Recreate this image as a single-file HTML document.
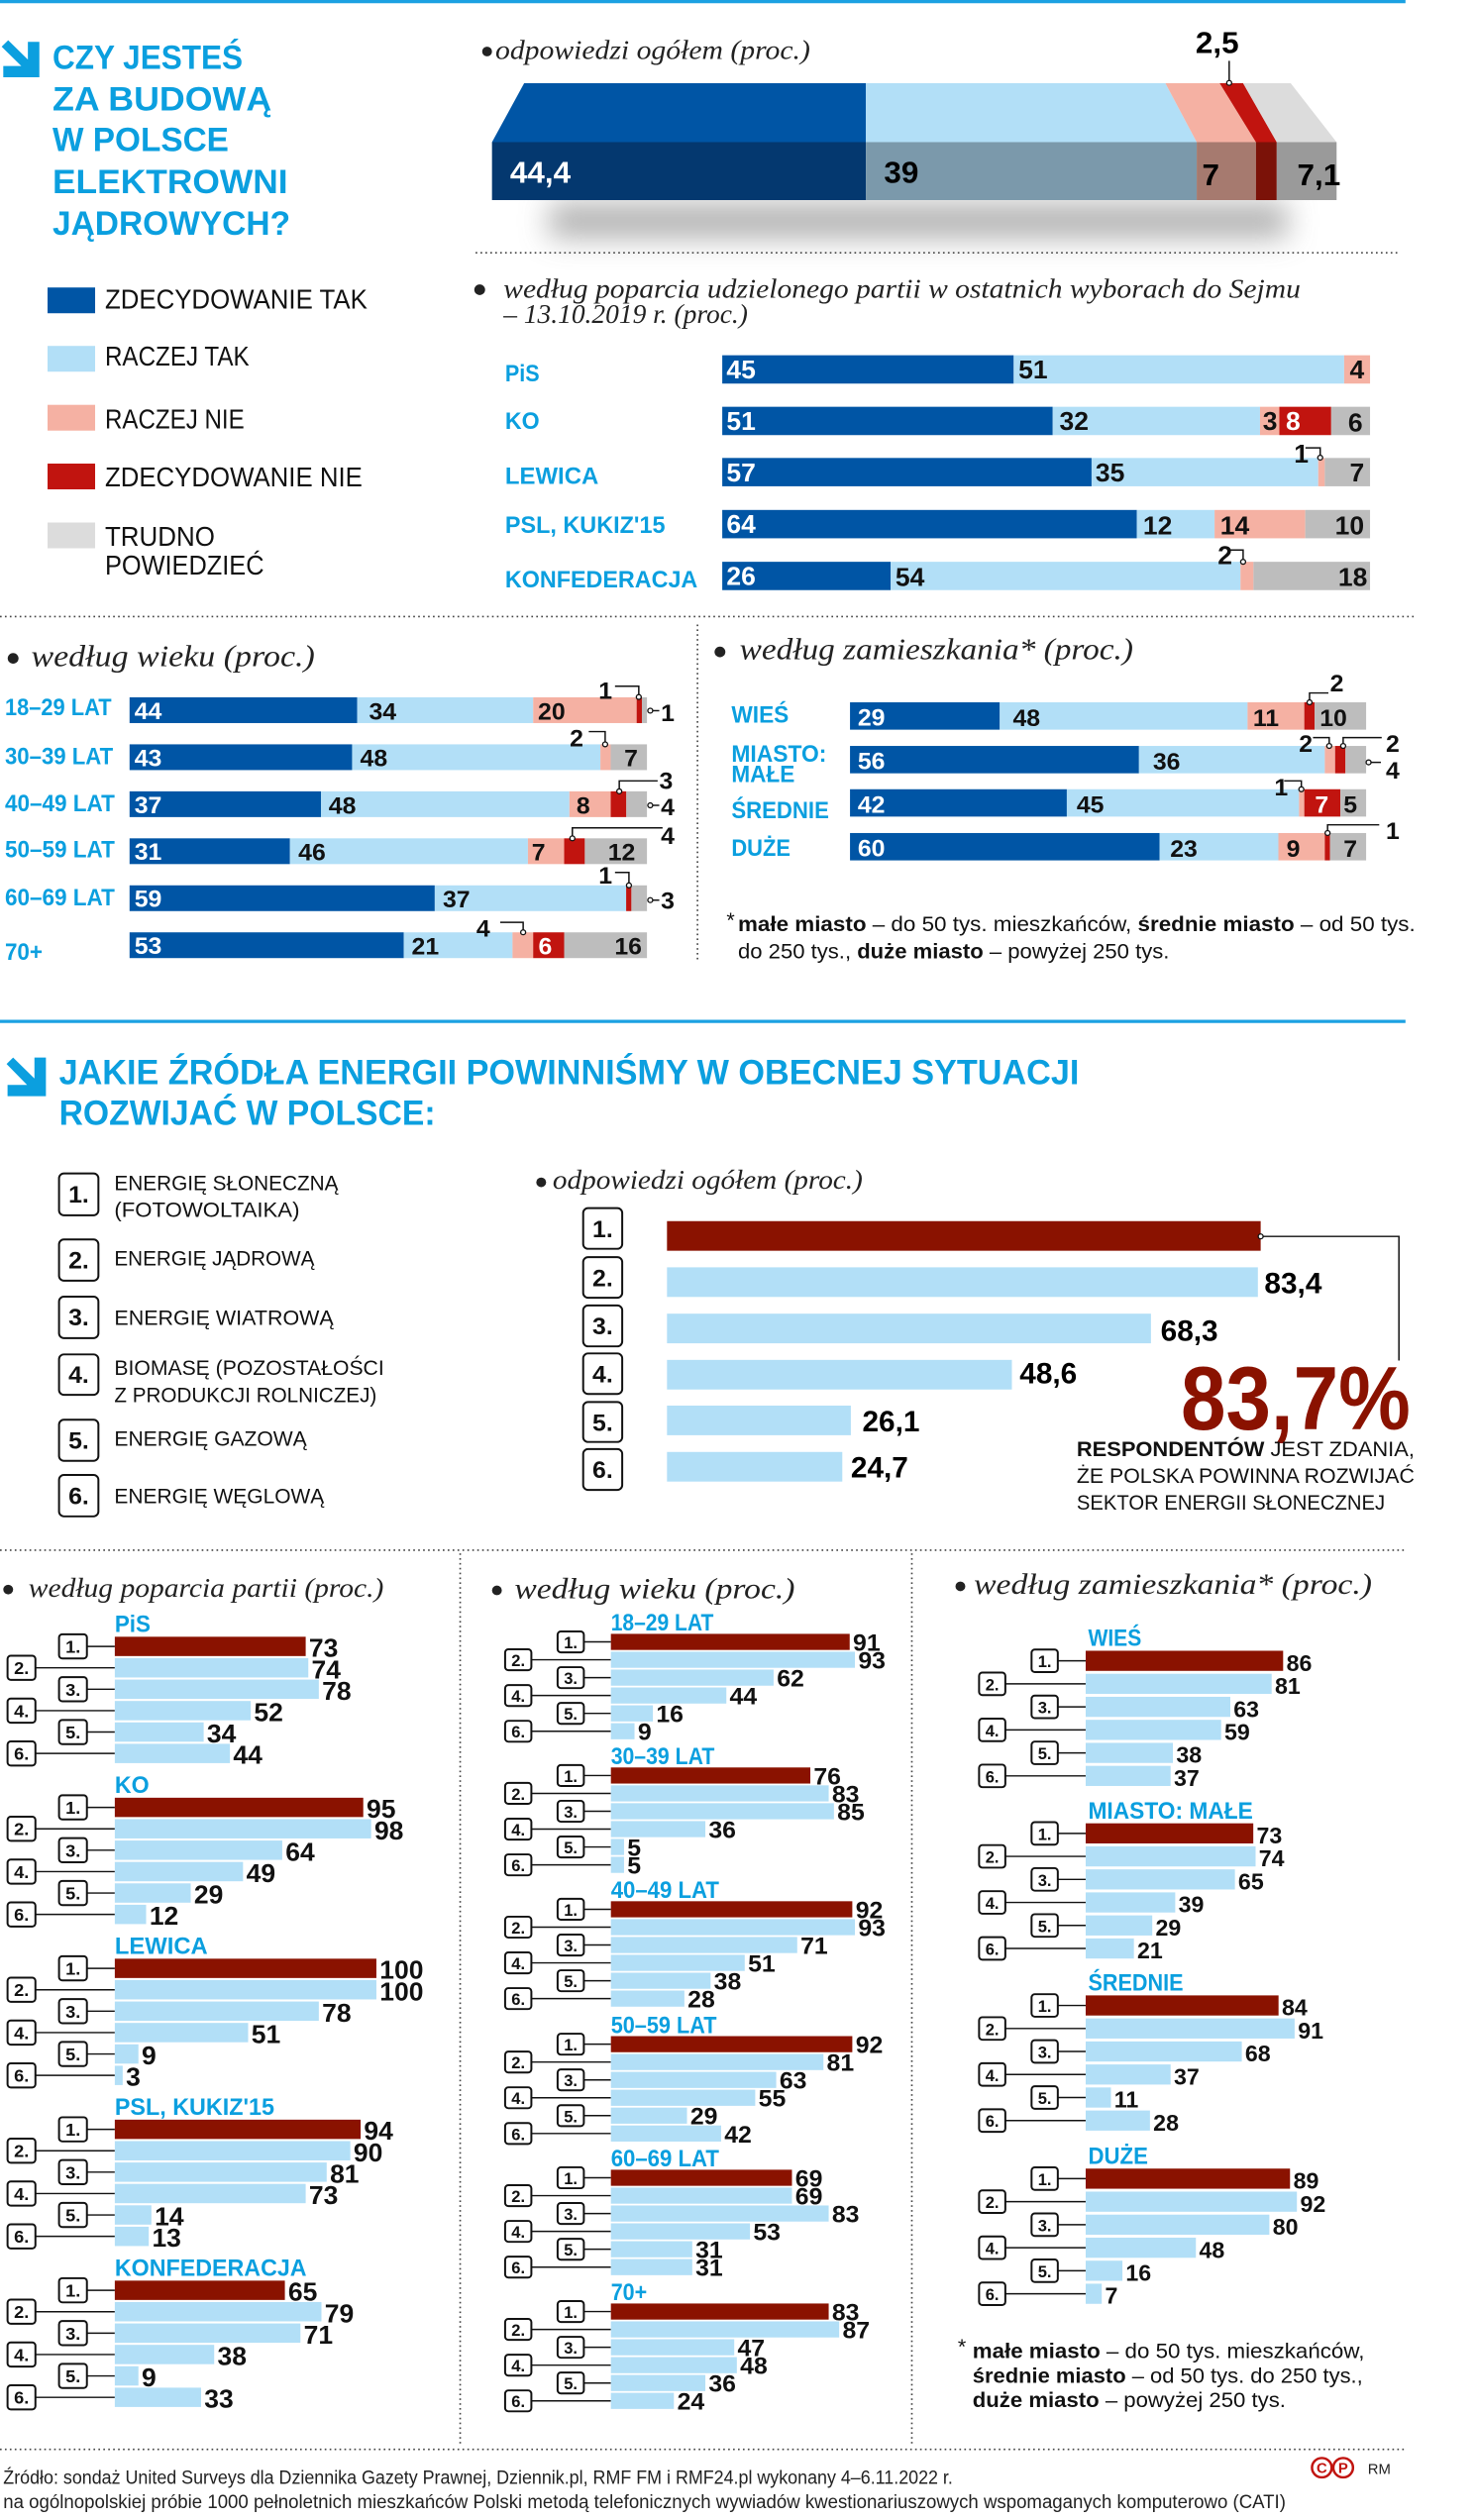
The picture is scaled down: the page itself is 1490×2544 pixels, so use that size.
<!DOCTYPE html>
<html><head><meta charset="utf-8"><style>
html,body{margin:0;padding:0;background:#fff}
svg{display:block}
.n{font-family:"Liberation Sans Narrow","Liberation Sans",sans-serif}
.t{font-family:"Liberation Sans Narrow","Liberation Sans",sans-serif;font-weight:bold;fill:#0b9fdf}
.it{font-family:"Liberation Serif",serif;font-style:italic;fill:#222}
.v{font-family:"Liberation Sans Narrow","Liberation Sans",sans-serif;font-weight:bold;font-size:16px;fill:#111}
.v2{font-family:"Liberation Sans Narrow","Liberation Sans",sans-serif;font-weight:bold;font-size:15px;fill:#111}
.v3{font-family:"Liberation Sans Narrow","Liberation Sans",sans-serif;font-weight:bold;font-size:14px;fill:#111}
.w{fill:#fff}
.gl{font-family:"Liberation Sans Narrow","Liberation Sans",sans-serif;font-weight:bold;font-size:15px;fill:#0b9fdf}
.bx{fill:#fff;stroke:#111;stroke-width:1.2}
.bn{font-family:"Liberation Sans Narrow","Liberation Sans",sans-serif;font-weight:bold;font-size:11px;text-anchor:middle;fill:#111}
.bn2{font-family:"Liberation Sans Narrow","Liberation Sans",sans-serif;font-weight:bold;font-size:10px;text-anchor:middle;fill:#111}
.ln{stroke:#111;stroke-width:.9;fill:none}
.dot{stroke:#444;stroke-width:1;stroke-dasharray:1 2;fill:none}
.lg{font-family:"Liberation Sans Narrow","Liberation Sans",sans-serif;font-size:17px;fill:#111}
.ls{font-family:"Liberation Sans Narrow","Liberation Sans",sans-serif;font-size:13px;fill:#111}
.cc{fill:#fff;stroke:#111;stroke-width:.8}
.DB{fill:#0055a5}.LB{fill:#b2dff7}.SA{fill:#f5b1a3}.RD{fill:#c1140f}.GR{fill:#bdbdbd}.DR{fill:#8a1200}
</style></head><body>
<svg width="1490" height="2544" viewBox="0 0 900 1565.5" preserveAspectRatio="none" xmlns="http://www.w3.org/2000/svg">
<defs><filter id="bl" x="-20%" y="-150%" width="140%" height="400%"><feGaussianBlur stdDeviation="9"/></filter></defs>
<line x1="0" y1="1" x2="857" y2="1" stroke="#1ba1e2" stroke-width="2"/>
<!-- title 1 -->
<path d="M17,26 L24,26 L24,48 L2,48 L2,41 L13,41 L1,29 L5,25 L17,37 Z" fill="#0b9fdf"/>
<text class="t" font-size="21" x="32" y="42.9" textLength="116" lengthAdjust="spacingAndGlyphs">CZY JESTEŚ</text>
<text class="t" font-size="21" x="32" y="68.6" textLength="133.6" lengthAdjust="spacingAndGlyphs">ZA BUDOWĄ</text>
<text class="t" font-size="21" x="32" y="93.8" textLength="107.5" lengthAdjust="spacingAndGlyphs">W POLSCE</text>
<text class="t" font-size="21" x="32" y="120" textLength="143.5" lengthAdjust="spacingAndGlyphs">ELEKTROWNI</text>
<text class="t" font-size="21" x="32" y="145.8" textLength="145" lengthAdjust="spacingAndGlyphs">JĄDROWYCH?</text>
<!-- overall 3D -->
<circle cx="297" cy="32" r="3" fill="#222"/>
<text class="it" font-size="17" x="302" y="36.6" textLength="192" lengthAdjust="spacingAndGlyphs">odpowiedzi ogółem (proc.)</text>
<rect x="335" y="126" width="450" height="22" fill="#999" opacity=".75" filter="url(#bl)"/>
<polygon class="DB" points="319.6,51.7 528,51.7 528,88.3 300,88.3"/>
<polygon class="LB" points="528,51.7 710.6,51.7 729.7,88.3 528,88.3"/>
<polygon class="SA" points="710.6,51.7 743.7,51.7 765.8,88.3 729.7,88.3"/>
<polygon class="RD" points="743.7,51.7 758,51.7 778.5,88.3 765.8,88.3"/>
<polygon fill="#dcdcdc" points="758,51.7 787,51.7 815,88.3 778.5,88.3"/>
<rect x="300" y="88.3" width="228" height="36" fill="#04386f"/>
<rect x="528" y="88.3" width="201.7" height="36" fill="#7b99ab"/>
<rect x="729.7" y="88.3" width="36.1" height="36" fill="#a67a6f"/>
<rect x="765.8" y="88.3" width="12.7" height="36" fill="#7b1208"/>
<rect x="778.5" y="88.3" width="36.5" height="36" fill="#9a9a9a"/>
<text class="n w" font-weight="bold" font-size="19" x="311" y="113.5">44,4</text>
<text class="n" font-weight="bold" font-size="19" x="539" y="113.5">39</text>
<text class="n" font-weight="bold" font-size="19" x="733" y="115">7</text>
<text class="n" font-weight="bold" font-size="19" x="791" y="115">7,1</text>
<text class="n" font-weight="bold" font-size="19" x="729" y="32.8">2,5</text>
<line x1="749.5" y1="37.8" x2="749.5" y2="51.7" stroke="#111" stroke-width=".9"/>
<circle class="cc" cx="749.5" cy="51.5" r="1.5"/>
<line class="dot" x1="290" y1="157" x2="854" y2="157"/>
<!-- legend -->
<rect class="DB" x="29" y="178.6" width="29" height="16"/>
<rect class="LB" x="29" y="214.9" width="29" height="16"/>
<rect class="SA" x="29" y="251.5" width="29" height="16"/>
<rect class="RD" x="29" y="288" width="29" height="16"/>
<rect fill="#dcdcdc" x="29" y="324.6" width="29" height="16"/>
<text class="lg" x="64" y="191.7" textLength="160" lengthAdjust="spacingAndGlyphs">ZDECYDOWANIE TAK</text>
<text class="lg" x="64" y="227" textLength="88" lengthAdjust="spacingAndGlyphs">RACZEJ TAK</text>
<text class="lg" x="64" y="266" textLength="85" lengthAdjust="spacingAndGlyphs">RACZEJ NIE</text>
<text class="lg" x="64" y="302" textLength="157" lengthAdjust="spacingAndGlyphs">ZDECYDOWANIE NIE</text>
<text class="lg" x="64" y="339" textLength="67" lengthAdjust="spacingAndGlyphs">TRUDNO</text>
<text class="lg" x="64" y="357" textLength="97" lengthAdjust="spacingAndGlyphs">POWIEDZIEĆ</text>
<!-- party -->
<circle cx="292.5" cy="180" r="3.3" fill="#222"/>
<text class="it" font-size="17" x="307" y="185" textLength="486" lengthAdjust="spacingAndGlyphs">według poparcia udzielonego partii w ostatnich wyborach do Sejmu</text>
<text class="it" font-size="17" x="307" y="200.5" textLength="149" lengthAdjust="spacingAndGlyphs">– 13.10.2019 r. (proc.)</text>
<text class="gl" x="308" y="237" textLength="21" lengthAdjust="spacingAndGlyphs">PiS</text>
<text class="gl" x="308" y="266.6" textLength="21" lengthAdjust="spacingAndGlyphs">KO</text>
<text class="gl" x="308" y="300.6" textLength="57" lengthAdjust="spacingAndGlyphs">LEWICA</text>
<text class="gl" x="308" y="331" textLength="97.6" lengthAdjust="spacingAndGlyphs">PSL, KUKIZ'15</text>
<text class="gl" x="308" y="365" textLength="117.4" lengthAdjust="spacingAndGlyphs">KONFEDERACJA</text>
<g>
<rect class="DB" x="440.4" y="220.7" width="177.7" height="17.6"/><rect class="LB" x="618.1" y="220.7" width="201.5" height="17.6"/><rect class="SA" x="819.6" y="220.7" width="15.8" height="17.6"/>
<text class="v w" x="443" y="235">45</text><text class="v" x="621" y="235">51</text><text class="v" x="823" y="235">4</text>
<rect class="DB" x="440.4" y="252.7" width="201.5" height="17.6"/><rect class="LB" x="641.9" y="252.7" width="126.4" height="17.6"/><rect class="SA" x="768.3" y="252.7" width="11.8" height="17.6"/><rect class="RD" x="780.1" y="252.7" width="31.6" height="17.6"/><rect class="GR" x="811.7" y="252.7" width="23.7" height="17.6"/>
<text class="v w" x="443" y="267">51</text><text class="v" x="646" y="267">32</text><text class="v" x="770" y="267">3</text><text class="v w" x="784" y="267">8</text><text class="v" x="822" y="268">6</text>
<rect class="DB" x="440.4" y="284.5" width="225.2" height="17.6"/><rect class="LB" x="665.6" y="284.5" width="138.2" height="17.6"/><rect class="SA" x="803.8" y="284.5" width="4" height="17.6"/><rect class="GR" x="807.8" y="284.5" width="27.6" height="17.6"/>
<text class="v w" x="443" y="299">57</text><text class="v" x="668" y="299">35</text><text class="v" x="823" y="299">7</text>
<text class="v" x="789" y="287.5">1</text><path class="ln" d="M796,278.2H805V284.5"/><circle class="cc" cx="805" cy="284.3" r="1.5"/>
<rect class="DB" x="440.4" y="316.8" width="252.8" height="17.6"/><rect class="LB" x="693.2" y="316.8" width="47.4" height="17.6"/><rect class="SA" x="740.6" y="316.8" width="55.3" height="17.6"/><rect class="GR" x="795.9" y="316.8" width="39.5" height="17.6"/>
<text class="v w" x="443" y="331">64</text><text class="v" x="697" y="332">12</text><text class="v" x="744" y="332">14</text><text class="v" x="814" y="332">10</text>
<rect class="DB" x="440.4" y="349" width="102.7" height="17.6"/><rect class="LB" x="543.1" y="349" width="213.3" height="17.6"/><rect class="SA" x="756.4" y="349" width="7.9" height="17.6"/><rect class="GR" x="764.3" y="349" width="71.1" height="17.6"/>
<text class="v w" x="443" y="363.5">26</text><text class="v" x="546" y="364">54</text><text class="v" x="816" y="364">18</text>
<text class="v" x="742.5" y="350.6">2</text><path class="ln" d="M749.5,341.7H758V349"/><circle class="cc" cx="758" cy="349" r="1.5"/>
</g>
<line class="dot" x1="0" y1="383" x2="862" y2="383"/>
<line class="dot" x1="425.3" y1="388" x2="425.3" y2="598"/>
<!-- age -->
<circle cx="8" cy="409" r="3.3" fill="#222"/>
<text class="it" font-size="19" x="19" y="413.8" textLength="173" lengthAdjust="spacingAndGlyphs">według wieku (proc.)</text>
<text class="gl" font-size="14" x="3" y="444.4" textLength="65" lengthAdjust="spacingAndGlyphs">18–29 LAT</text>
<text class="gl" font-size="14" x="3" y="474.9" textLength="66" lengthAdjust="spacingAndGlyphs">30–39 LAT</text>
<text class="gl" font-size="14" x="3" y="504" textLength="67" lengthAdjust="spacingAndGlyphs">40–49 LAT</text>
<text class="gl" font-size="14" x="3" y="532.7" textLength="67" lengthAdjust="spacingAndGlyphs">50–59 LAT</text>
<text class="gl" font-size="14" x="3" y="562.5" textLength="67" lengthAdjust="spacingAndGlyphs">60–69 LAT</text>
<text class="gl" font-size="14" x="3" y="596.3" textLength="23" lengthAdjust="spacingAndGlyphs">70+</text>
<rect class="DB" x="79" y="433.2" width="138.8" height="16"/><rect class="LB" x="217.8" y="433.2" width="107.3" height="16"/><rect class="SA" x="325.1" y="433.2" width="63.1" height="16"/><rect class="RD" x="388.2" y="433.2" width="3.2" height="16"/><rect class="GR" x="391.4" y="433.2" width="3.1" height="16"/>
<text class="v2 w" x="82" y="446.7">44</text><text class="v2" x="225" y="447">34</text><text class="v2" x="328" y="447">20</text>
<text class="v2" x="365" y="434">1</text><path class="ln" d="M375,426.3H389.5V433"/><circle class="cc" cx="389.5" cy="433" r="1.5"/>
<path class="ln" d="M397,441.5H402"/><circle class="cc" cx="396.5" cy="441.5" r="1.5"/><text class="v2" x="403" y="448">1</text>
<rect class="DB" x="79" y="462.4" width="135.7" height="16"/><rect class="LB" x="214.7" y="462.4" width="151.4" height="16"/><rect class="SA" x="366.1" y="462.4" width="6.3" height="16"/><rect class="GR" x="372.4" y="462.4" width="22.1" height="16"/>
<text class="v2 w" x="82" y="475.9">43</text><text class="v2" x="219.6" y="476">48</text><text class="v2" x="380.6" y="476">7</text>
<text class="v2" x="347.4" y="463.8">2</text><path class="ln" d="M359,454.5H369V462.4"/><circle class="cc" cx="369" cy="462.4" r="1.5"/>
<rect class="DB" x="79" y="491.6" width="116.7" height="16"/><rect class="LB" x="195.7" y="491.6" width="151.5" height="16"/><rect class="SA" x="347.2" y="491.6" width="25.2" height="16"/><rect class="RD" x="372.4" y="491.6" width="9.5" height="16"/><rect class="GR" x="381.9" y="491.6" width="12.6" height="16"/>
<text class="v2 w" x="82" y="505.1">37</text><text class="v2" x="200.4" y="505.5">48</text><text class="v2" x="351.5" y="505.5">8</text>
<text class="v2" x="402" y="490">3</text><path class="ln" d="M401,485.1H377.6V491.6"/><circle class="cc" cx="377.6" cy="491.6" r="1.5"/>
<path class="ln" d="M397,500.3H402"/><circle class="cc" cx="396.5" cy="500.3" r="1.5"/><text class="v2" x="403" y="506.6">4</text>
<rect class="DB" x="79" y="520.8" width="97.8" height="16"/><rect class="LB" x="176.8" y="520.8" width="145.1" height="16"/><rect class="SA" x="321.9" y="520.8" width="22.1" height="16"/><rect class="RD" x="344" y="520.8" width="12.6" height="16"/><rect class="GR" x="356.6" y="520.8" width="37.9" height="16"/>
<text class="v2 w" x="82" y="534.3">31</text><text class="v2" x="181.9" y="534.5">46</text><text class="v2" x="324.2" y="534.5">7</text><text class="v2" x="370.7" y="534.5">12</text>
<text class="v2" x="403" y="524.3">4</text><path class="ln" d="M349,520.8V514.3H404"/><circle class="cc" cx="349" cy="520.8" r="1.5"/>
<rect class="DB" x="79" y="550" width="186.1" height="16"/><rect class="LB" x="265.1" y="550" width="116.7" height="16"/><rect class="RD" x="381.8" y="550" width="3.2" height="16"/><rect class="GR" x="385" y="550" width="9.5" height="16"/>
<text class="v2 w" x="82" y="563.5">59</text><text class="v2" x="270" y="563.7">37</text>
<text class="v2" x="365" y="549">1</text><path class="ln" d="M375,542H383.5V550"/><circle class="cc" cx="383.5" cy="550" r="1.5"/>
<path class="ln" d="M397,559.2H402"/><circle class="cc" cx="396.5" cy="559.2" r="1.5"/><text class="v2" x="403" y="564.6">3</text>
<rect class="DB" x="79" y="579.2" width="167.2" height="16"/><rect class="LB" x="246.2" y="579.2" width="66.3" height="16"/><rect class="SA" x="312.5" y="579.2" width="12.6" height="16"/><rect class="RD" x="325.1" y="579.2" width="18.9" height="16"/><rect class="GR" x="344" y="579.2" width="50.5" height="16"/>
<text class="v2 w" x="82" y="592.7">53</text><text class="v2" x="251" y="593">21</text><text class="v2 w" x="328.3" y="593">6</text><text class="v2" x="374.7" y="593">16</text>
<text class="v2" x="290.5" y="581.7">4</text><path class="ln" d="M305,573H319V579.2"/><circle class="cc" cx="319" cy="579.2" r="1.5"/>
<!-- residence -->
<circle cx="439" cy="405" r="3.3" fill="#222"/>
<text class="it" font-size="19" x="451" y="409.6" textLength="240" lengthAdjust="spacingAndGlyphs">według zamieszkania* (proc.)</text>
<text class="gl" font-size="14" x="446" y="449" textLength="35" lengthAdjust="spacingAndGlyphs">WIEŚ</text>
<text class="gl" font-size="14" x="446" y="473.2" textLength="58" lengthAdjust="spacingAndGlyphs">MIASTO:</text>
<text class="gl" font-size="14" x="446" y="485.7" textLength="38.6" lengthAdjust="spacingAndGlyphs">MAŁE</text>
<text class="gl" font-size="14" x="446" y="508.3" textLength="59.5" lengthAdjust="spacingAndGlyphs">ŚREDNIE</text>
<text class="gl" font-size="14" x="446" y="531.6" textLength="36" lengthAdjust="spacingAndGlyphs">DUŻE</text>
<rect class="DB" x="518.3" y="436.3" width="91.3" height="17"/><rect class="LB" x="609.6" y="436.3" width="151.1" height="17"/><rect class="SA" x="760.7" y="436.3" width="34.6" height="17"/><rect class="RD" x="795.3" y="436.3" width="6.3" height="17"/><rect class="GR" x="801.6" y="436.3" width="31.4" height="17"/>
<text class="v2 w" x="523" y="450.8">29</text><text class="v2" x="617.6" y="451">48</text><text class="v2" x="764" y="451">11</text><text class="v2" x="804.7" y="451">10</text>
<text class="v2" x="811" y="429.4">2</text><path class="ln" d="M798.5,436.3V430.5H810"/><circle class="cc" cx="798.5" cy="436.3" r="1.5"/>
<rect class="DB" x="518.3" y="463.4" width="176.2" height="17"/><rect class="LB" x="694.5" y="463.4" width="113.3" height="17"/><rect class="SA" x="807.8" y="463.4" width="6.3" height="17"/><rect class="RD" x="814.1" y="463.4" width="6.3" height="17"/><rect class="GR" x="820.4" y="463.4" width="12.6" height="17"/>
<text class="v2 w" x="523" y="477.9">56</text><text class="v2" x="703" y="478">36</text>
<text class="v2" x="792" y="467">2</text><path class="ln" d="M800.6,458.2H810.5V463.4"/><circle class="cc" cx="810.5" cy="463.4" r="1.5"/>
<text class="v2" x="845" y="467">2</text><path class="ln" d="M819,463.4V458.2H842.5"/><circle class="cc" cx="819" cy="463.4" r="1.5"/>
<path class="ln" d="M835,473.6H842"/><circle class="cc" cx="834.5" cy="473.6" r="1.5"/><text class="v2" x="845" y="483.7">4</text>
<rect class="DB" x="518.3" y="490.3" width="132.2" height="17"/><rect class="LB" x="650.5" y="490.3" width="141.6" height="17"/><rect class="SA" x="792.1" y="490.3" width="3.2" height="17"/><rect class="RD" x="795.3" y="490.3" width="22" height="17"/><rect class="GR" x="817.3" y="490.3" width="15.7" height="17"/>
<text class="v2 w" x="523" y="504.8">42</text><text class="v2" x="656.5" y="505">45</text><text class="v2 w" x="801.8" y="505">7</text><text class="v2" x="819.2" y="505">5</text>
<text class="v2" x="777" y="494">1</text><path class="ln" d="M783,485.1H793.5V490.3"/><circle class="cc" cx="793.5" cy="490.3" r="1.5"/>
<rect class="DB" x="518.3" y="517.5" width="188.8" height="17"/><rect class="LB" x="707.1" y="517.5" width="72.4" height="17"/><rect class="SA" x="779.5" y="517.5" width="28.3" height="17"/><rect class="RD" x="807.8" y="517.5" width="3.2" height="17"/><rect class="GR" x="811" y="517.5" width="22" height="17"/>
<text class="v2 w" x="523" y="532">60</text><text class="v2" x="713.5" y="532.2">23</text><text class="v2" x="784.4" y="532.2">9</text><text class="v2" x="819.2" y="532.2">7</text>
<text class="v2" x="845" y="521.2">1</text><path class="ln" d="M809.5,517.5V512.4H841"/><circle class="cc" cx="809.5" cy="517.5" r="1.5"/>
<text class="ls" x="443" y="576">*</text>
<text class="ls" x="450" y="578.6" textLength="413" lengthAdjust="spacingAndGlyphs"><tspan font-weight="bold">małe miasto</tspan> – do 50 tys. mieszkańców, <tspan font-weight="bold">średnie miasto</tspan> – od 50 tys.</text>
<text class="ls" x="450" y="595.3" textLength="263" lengthAdjust="spacingAndGlyphs">do 250 tys., <tspan font-weight="bold">duże miasto</tspan> – powyżej 250 tys.</text>
<!-- section 2 -->
<line x1="0" y1="634.5" x2="857" y2="634.5" stroke="#1ba1e2" stroke-width="2"/>
<path d="M21,657 L28,657 L28,681 L4.6,681 L4.6,674 L16.5,674 L4,661 L8,657 L21,670 Z" fill="#0b9fdf"/>
<text class="t" font-size="21.5" x="36" y="673.4" textLength="622" lengthAdjust="spacingAndGlyphs">JAKIE ŹRÓDŁA ENERGII POWINNIŚMY W OBECNEJ SYTUACJI</text>
<text class="t" font-size="21.5" x="36" y="698.8" textLength="229.5" lengthAdjust="spacingAndGlyphs">ROZWIJAĆ W POLSCE:</text>
<g>
<rect class="bx" x="36" y="729" width="24" height="26" rx="3"/><text class="v2" x="48" y="747" text-anchor="middle">1.</text>
<rect class="bx" x="36" y="770" width="24" height="25.6" rx="3"/><text class="v2" x="48" y="788" text-anchor="middle">2.</text>
<rect class="bx" x="36" y="805.5" width="24" height="25.8" rx="3"/><text class="v2" x="48" y="823.5" text-anchor="middle">3.</text>
<rect class="bx" x="36" y="841.4" width="24" height="25.1" rx="3"/><text class="v2" x="48" y="859" text-anchor="middle">4.</text>
<rect class="bx" x="36" y="882" width="24" height="25.5" rx="3"/><text class="v2" x="48" y="900" text-anchor="middle">5.</text>
<rect class="bx" x="36" y="916.3" width="24" height="25.7" rx="3"/><text class="v2" x="48" y="934.3" text-anchor="middle">6.</text>
<text class="ls" x="69.7" y="739.5" textLength="136.6" lengthAdjust="spacingAndGlyphs">ENERGIĘ SŁONECZNĄ</text>
<text class="ls" x="69.7" y="756" textLength="113" lengthAdjust="spacingAndGlyphs">(FOTOWOLTAIKA)</text>
<text class="ls" x="69.7" y="786.2" textLength="122" lengthAdjust="spacingAndGlyphs">ENERGIĘ JĄDROWĄ</text>
<text class="ls" x="69.7" y="823.2" textLength="133.7" lengthAdjust="spacingAndGlyphs">ENERGIĘ WIATROWĄ</text>
<text class="ls" x="69.7" y="854" textLength="164.5" lengthAdjust="spacingAndGlyphs">BIOMASĘ (POZOSTAŁOŚCI</text>
<text class="ls" x="69.7" y="871" textLength="160" lengthAdjust="spacingAndGlyphs">Z PRODUKCJI ROLNICZEJ)</text>
<text class="ls" x="69.7" y="898" textLength="117.4" lengthAdjust="spacingAndGlyphs">ENERGIĘ GAZOWĄ</text>
<text class="ls" x="69.7" y="933.7" textLength="128" lengthAdjust="spacingAndGlyphs">ENERGIĘ WĘGLOWĄ</text>
</g>
<circle cx="330" cy="734.5" r="3" fill="#222"/>
<text class="it" font-size="17" x="337" y="738.4" textLength="189" lengthAdjust="spacingAndGlyphs">odpowiedzi ogółem (proc.)</text>
<g>
<rect class="bx" x="355.6" y="750.5" width="23.8" height="25.3" rx="3"/><text class="v2" x="367.5" y="768.5" text-anchor="middle">1.</text>
<rect class="bx" x="355.6" y="781" width="23.8" height="25.2" rx="3"/><text class="v2" x="367.5" y="799" text-anchor="middle">2.</text>
<rect class="bx" x="355.6" y="811" width="23.8" height="25.4" rx="3"/><text class="v2" x="367.5" y="829" text-anchor="middle">3.</text>
<rect class="bx" x="355.6" y="840.8" width="23.8" height="25.2" rx="3"/><text class="v2" x="367.5" y="858.8" text-anchor="middle">4.</text>
<rect class="bx" x="355.6" y="871" width="23.8" height="24.8" rx="3"/><text class="v2" x="367.5" y="889" text-anchor="middle">5.</text>
<rect class="bx" x="355.6" y="900.2" width="23.8" height="25.4" rx="3"/><text class="v2" x="367.5" y="918.2" text-anchor="middle">6.</text>
<rect class="DR" x="406.7" y="758.6" width="362" height="18.4"/>
<rect class="LB" x="406.7" y="787.3" width="360.3" height="18.4"/>
<rect class="LB" x="406.7" y="816.1" width="295.1" height="18.4"/>
<rect class="LB" x="406.7" y="844.8" width="210.3" height="18.4"/>
<rect class="LB" x="406.7" y="873.2" width="112.1" height="18.4"/>
<rect class="LB" x="406.7" y="902" width="106.9" height="18.4"/>
<text class="n" font-weight="bold" font-size="18" x="771" y="803.4">83,4</text>
<text class="n" font-weight="bold" font-size="18" x="707.7" y="833">68,3</text>
<text class="n" font-weight="bold" font-size="18" x="621.7" y="859.5">48,6</text>
<text class="n" font-weight="bold" font-size="18" x="525.8" y="889.2">26,1</text>
<text class="n" font-weight="bold" font-size="18" x="518.8" y="917.9">24,7</text>
<path class="ln" d="M768.7,768.1H853V845.2"/><circle class="cc" cx="768.7" cy="768.1" r="1.5"/>
<text class="n" font-weight="bold" font-size="56" fill="#8a1200" x="720" y="888.1" textLength="140" lengthAdjust="spacingAndGlyphs">83,7%</text>
<text class="ls" x="656.5" y="904.7" textLength="206" lengthAdjust="spacingAndGlyphs"><tspan font-weight="bold">RESPONDENTÓW</tspan> JEST ZDANIA,</text>
<text class="ls" x="656.5" y="921.2" textLength="206" lengthAdjust="spacingAndGlyphs">ŻE POLSKA POWINNA ROZWIJAĆ</text>
<text class="ls" x="656.5" y="937.7" textLength="188" lengthAdjust="spacingAndGlyphs">SEKTOR ENERGII SŁONECZNEJ</text>
</g>
<line class="dot" x1="0" y1="963" x2="857" y2="963"/>
<line class="dot" x1="280.6" y1="965" x2="280.6" y2="1519"/>
<line class="dot" x1="556" y1="965" x2="556" y2="1519"/>
<!-- bottom titles -->
<circle cx="5" cy="987.5" r="3" fill="#222"/>
<text class="it" font-size="17" x="17.4" y="992" textLength="216.6" lengthAdjust="spacingAndGlyphs">według poparcia partii (proc.)</text>
<circle cx="303" cy="988" r="3" fill="#222"/>
<text class="it" font-size="18" x="313.7" y="993" textLength="171" lengthAdjust="spacingAndGlyphs">według wieku (proc.)</text>
<circle cx="585.6" cy="985.5" r="3" fill="#222"/>
<text class="it" font-size="18" x="593.8" y="990" textLength="242.8" lengthAdjust="spacingAndGlyphs">według zamieszkania* (proc.)</text>

<!-- party groups -->
<g transform="translate(0,1016.8)">
<text class="gl" x="70" y="-3" textLength="21.8" lengthAdjust="spacingAndGlyphs">PiS</text>
<path class="ln" d="M53,6H70M21.6,19.3H70M53,32.6H70M21.6,45.9H70M53,59.2H70M21.6,72.5H70"/>
<rect class="bx" x="36" y="-1.5" width="17" height="15" rx="2"/><text class="bn" x="44.5" y="10">1.</text>
<rect class="bx" x="4.6" y="11.8" width="17" height="15" rx="2"/><text class="bn" x="13.1" y="23.3">2.</text>
<rect class="bx" x="36" y="25.1" width="17" height="15" rx="2"/><text class="bn" x="44.5" y="36.6">3.</text>
<rect class="bx" x="4.6" y="38.4" width="17" height="15" rx="2"/><text class="bn" x="13.1" y="49.9">4.</text>
<rect class="bx" x="36" y="51.7" width="17" height="15" rx="2"/><text class="bn" x="44.5" y="63.2">5.</text>
<rect class="bx" x="4.6" y="65" width="17" height="15" rx="2"/><text class="bn" x="13.1" y="76.5">6.</text>
<rect class="DR" x="70" y="0" width="116.4" height="12"/><rect class="LB" x="70" y="13.3" width="118" height="12"/><rect class="LB" x="70" y="26.6" width="124.4" height="12"/><rect class="LB" x="70" y="39.9" width="82.9" height="12"/><rect class="LB" x="70" y="53.2" width="54.2" height="12"/><rect class="LB" x="70" y="66.5" width="70.2" height="12"/>
<text class="v" x="188.4" y="12.5">73</text><text class="v" x="190" y="25.8">74</text><text class="v" x="196.4" y="39.1">78</text><text class="v" x="154.9" y="52.4">52</text><text class="v" x="126.2" y="65.7">34</text><text class="v" x="142.2" y="79">44</text>
</g>
<g transform="translate(0,1116.8)">
<text class="gl" x="70" y="-3" textLength="21" lengthAdjust="spacingAndGlyphs">KO</text>
<path class="ln" d="M53,6H70M21.6,19.3H70M53,32.6H70M21.6,45.9H70M53,59.2H70M21.6,72.5H70"/>
<rect class="bx" x="36" y="-1.5" width="17" height="15" rx="2"/><text class="bn" x="44.5" y="10">1.</text>
<rect class="bx" x="4.6" y="11.8" width="17" height="15" rx="2"/><text class="bn" x="13.1" y="23.3">2.</text>
<rect class="bx" x="36" y="25.1" width="17" height="15" rx="2"/><text class="bn" x="44.5" y="36.6">3.</text>
<rect class="bx" x="4.6" y="38.4" width="17" height="15" rx="2"/><text class="bn" x="13.1" y="49.9">4.</text>
<rect class="bx" x="36" y="51.7" width="17" height="15" rx="2"/><text class="bn" x="44.5" y="63.2">5.</text>
<rect class="bx" x="4.6" y="65" width="17" height="15" rx="2"/><text class="bn" x="13.1" y="76.5">6.</text>
<rect class="DR" x="70" y="0" width="151.5" height="12"/><rect class="LB" x="70" y="13.3" width="156.3" height="12"/><rect class="LB" x="70" y="26.6" width="102.1" height="12"/><rect class="LB" x="70" y="39.9" width="78.2" height="12"/><rect class="LB" x="70" y="53.2" width="46.3" height="12"/><rect class="LB" x="70" y="66.5" width="19.1" height="12"/>
<text class="v" x="223.5" y="12.5">95</text><text class="v" x="228.3" y="25.8">98</text><text class="v" x="174.1" y="39.1">64</text><text class="v" x="150.2" y="52.4">49</text><text class="v" x="118.3" y="65.7">29</text><text class="v" x="91.1" y="79">12</text>
</g>
<g transform="translate(0,1216.8)">
<text class="gl" x="70" y="-3" textLength="56.7" lengthAdjust="spacingAndGlyphs">LEWICA</text>
<path class="ln" d="M53,6H70M21.6,19.3H70M53,32.6H70M21.6,45.9H70M53,59.2H70M21.6,72.5H70"/>
<rect class="bx" x="36" y="-1.5" width="17" height="15" rx="2"/><text class="bn" x="44.5" y="10">1.</text>
<rect class="bx" x="4.6" y="11.8" width="17" height="15" rx="2"/><text class="bn" x="13.1" y="23.3">2.</text>
<rect class="bx" x="36" y="25.1" width="17" height="15" rx="2"/><text class="bn" x="44.5" y="36.6">3.</text>
<rect class="bx" x="4.6" y="38.4" width="17" height="15" rx="2"/><text class="bn" x="13.1" y="49.9">4.</text>
<rect class="bx" x="36" y="51.7" width="17" height="15" rx="2"/><text class="bn" x="44.5" y="63.2">5.</text>
<rect class="bx" x="4.6" y="65" width="17" height="15" rx="2"/><text class="bn" x="13.1" y="76.5">6.</text>
<rect class="DR" x="70" y="0" width="159.5" height="12"/><rect class="LB" x="70" y="13.3" width="159.5" height="12"/><rect class="LB" x="70" y="26.6" width="124.4" height="12"/><rect class="LB" x="70" y="39.9" width="81.3" height="12"/><rect class="LB" x="70" y="53.2" width="14.4" height="12"/><rect class="LB" x="70" y="66.5" width="4.8" height="12"/>
<text class="v" x="231.5" y="12.5">100</text><text class="v" x="231.5" y="25.8">100</text><text class="v" x="196.4" y="39.1">78</text><text class="v" x="153.3" y="52.4">51</text><text class="v" x="86.4" y="65.7">9</text><text class="v" x="76.8" y="79">3</text>
</g>
<g transform="translate(0,1316.8)">
<text class="gl" x="70" y="-3" textLength="97.3" lengthAdjust="spacingAndGlyphs">PSL, KUKIZ'15</text>
<path class="ln" d="M53,6H70M21.6,19.3H70M53,32.6H70M21.6,45.9H70M53,59.2H70M21.6,72.5H70"/>
<rect class="bx" x="36" y="-1.5" width="17" height="15" rx="2"/><text class="bn" x="44.5" y="10">1.</text>
<rect class="bx" x="4.6" y="11.8" width="17" height="15" rx="2"/><text class="bn" x="13.1" y="23.3">2.</text>
<rect class="bx" x="36" y="25.1" width="17" height="15" rx="2"/><text class="bn" x="44.5" y="36.6">3.</text>
<rect class="bx" x="4.6" y="38.4" width="17" height="15" rx="2"/><text class="bn" x="13.1" y="49.9">4.</text>
<rect class="bx" x="36" y="51.7" width="17" height="15" rx="2"/><text class="bn" x="44.5" y="63.2">5.</text>
<rect class="bx" x="4.6" y="65" width="17" height="15" rx="2"/><text class="bn" x="13.1" y="76.5">6.</text>
<rect class="DR" x="70" y="0" width="149.9" height="12"/><rect class="LB" x="70" y="13.3" width="143.6" height="12"/><rect class="LB" x="70" y="26.6" width="129.2" height="12"/><rect class="LB" x="70" y="39.9" width="116.4" height="12"/><rect class="LB" x="70" y="53.2" width="22.3" height="12"/><rect class="LB" x="70" y="66.5" width="20.7" height="12"/>
<text class="v" x="221.9" y="12.5">94</text><text class="v" x="215.6" y="25.8">90</text><text class="v" x="201.2" y="39.1">81</text><text class="v" x="188.4" y="52.4">73</text><text class="v" x="94.3" y="65.7">14</text><text class="v" x="92.7" y="79">13</text>
</g>
<g transform="translate(0,1416.8)">
<text class="gl" x="70" y="-3" textLength="117" lengthAdjust="spacingAndGlyphs">KONFEDERACJA</text>
<path class="ln" d="M53,6H70M21.6,19.3H70M53,32.6H70M21.6,45.9H70M53,59.2H70M21.6,72.5H70"/>
<rect class="bx" x="36" y="-1.5" width="17" height="15" rx="2"/><text class="bn" x="44.5" y="10">1.</text>
<rect class="bx" x="4.6" y="11.8" width="17" height="15" rx="2"/><text class="bn" x="13.1" y="23.3">2.</text>
<rect class="bx" x="36" y="25.1" width="17" height="15" rx="2"/><text class="bn" x="44.5" y="36.6">3.</text>
<rect class="bx" x="4.6" y="38.4" width="17" height="15" rx="2"/><text class="bn" x="13.1" y="49.9">4.</text>
<rect class="bx" x="36" y="51.7" width="17" height="15" rx="2"/><text class="bn" x="44.5" y="63.2">5.</text>
<rect class="bx" x="4.6" y="65" width="17" height="15" rx="2"/><text class="bn" x="13.1" y="76.5">6.</text>
<rect class="DR" x="70" y="0" width="103.7" height="12"/><rect class="LB" x="70" y="13.3" width="126" height="12"/><rect class="LB" x="70" y="26.6" width="113.2" height="12"/><rect class="LB" x="70" y="39.9" width="60.6" height="12"/><rect class="LB" x="70" y="53.2" width="14.4" height="12"/><rect class="LB" x="70" y="66.5" width="52.6" height="12"/>
<text class="v" x="175.7" y="12.5">65</text><text class="v" x="198" y="25.8">79</text><text class="v" x="185.2" y="39.1">71</text><text class="v" x="132.6" y="52.4">38</text><text class="v" x="86.4" y="65.7">9</text><text class="v" x="124.6" y="79">33</text>
</g>

<!-- age groups -->
<g transform="translate(0,1015)">
<text class="gl" x="372.5" y="-2" textLength="62.6" lengthAdjust="spacingAndGlyphs">18–29 LAT</text>
<path class="ln" d="M356,5H372.5M324,16.1H372.5M356,27.2H372.5M324,38.3H372.5M356,49.4H372.5M324,60.5H372.5"/>
<rect class="bx" x="340" y="-1.5" width="16" height="13" rx="2"/><text class="bn2" x="348" y="9">1.</text>
<rect class="bx" x="308" y="9.6" width="16" height="13" rx="2"/><text class="bn2" x="316" y="20.1">2.</text>
<rect class="bx" x="340" y="20.7" width="16" height="13" rx="2"/><text class="bn2" x="348" y="31.2">3.</text>
<rect class="bx" x="308" y="31.8" width="16" height="13" rx="2"/><text class="bn2" x="316" y="42.3">4.</text>
<rect class="bx" x="340" y="42.9" width="16" height="13" rx="2"/><text class="bn2" x="348" y="53.4">5.</text>
<rect class="bx" x="308" y="54" width="16" height="13" rx="2"/><text class="bn2" x="316" y="64.5">6.</text>
<rect class="DR" x="372.5" y="0" width="145.6" height="10"/><rect class="LB" x="372.5" y="11.1" width="148.8" height="10"/><rect class="LB" x="372.5" y="22.2" width="99.2" height="10"/><rect class="LB" x="372.5" y="33.3" width="70.4" height="10"/><rect class="LB" x="372.5" y="44.4" width="25.6" height="10"/><rect class="LB" x="372.5" y="55.5" width="14.4" height="10"/>
<text class="v2" x="520.1" y="10.5">91</text><text class="v2" x="523.3" y="21.6">93</text><text class="v2" x="473.7" y="32.7">62</text><text class="v2" x="444.9" y="43.8">44</text><text class="v2" x="400.1" y="54.9">16</text><text class="v2" x="388.9" y="66">9</text>
</g>
<g transform="translate(0,1098)">
<text class="gl" x="372.5" y="-2" textLength="63.2" lengthAdjust="spacingAndGlyphs">30–39 LAT</text>
<path class="ln" d="M356,5H372.5M324,16.1H372.5M356,27.2H372.5M324,38.3H372.5M356,49.4H372.5M324,60.5H372.5"/>
<rect class="bx" x="340" y="-1.5" width="16" height="13" rx="2"/><text class="bn2" x="348" y="9">1.</text>
<rect class="bx" x="308" y="9.6" width="16" height="13" rx="2"/><text class="bn2" x="316" y="20.1">2.</text>
<rect class="bx" x="340" y="20.7" width="16" height="13" rx="2"/><text class="bn2" x="348" y="31.2">3.</text>
<rect class="bx" x="308" y="31.8" width="16" height="13" rx="2"/><text class="bn2" x="316" y="42.3">4.</text>
<rect class="bx" x="340" y="42.9" width="16" height="13" rx="2"/><text class="bn2" x="348" y="53.4">5.</text>
<rect class="bx" x="308" y="54" width="16" height="13" rx="2"/><text class="bn2" x="316" y="64.5">6.</text>
<rect class="DR" x="372.5" y="0" width="121.6" height="10"/><rect class="LB" x="372.5" y="11.1" width="132.8" height="10"/><rect class="LB" x="372.5" y="22.2" width="136" height="10"/><rect class="LB" x="372.5" y="33.3" width="57.6" height="10"/><rect class="LB" x="372.5" y="44.4" width="8" height="10"/><rect class="LB" x="372.5" y="55.5" width="8" height="10"/>
<text class="v2" x="496.1" y="10.5">76</text><text class="v2" x="507.3" y="21.6">83</text><text class="v2" x="510.5" y="32.7">85</text><text class="v2" x="432.1" y="43.8">36</text><text class="v2" x="382.5" y="54.9">5</text><text class="v2" x="382.5" y="66">5</text>
</g>
<g transform="translate(0,1181.1)">
<text class="gl" x="372.5" y="-2" textLength="66" lengthAdjust="spacingAndGlyphs">40–49 LAT</text>
<path class="ln" d="M356,5H372.5M324,16.1H372.5M356,27.2H372.5M324,38.3H372.5M356,49.4H372.5M324,60.5H372.5"/>
<rect class="bx" x="340" y="-1.5" width="16" height="13" rx="2"/><text class="bn2" x="348" y="9">1.</text>
<rect class="bx" x="308" y="9.6" width="16" height="13" rx="2"/><text class="bn2" x="316" y="20.1">2.</text>
<rect class="bx" x="340" y="20.7" width="16" height="13" rx="2"/><text class="bn2" x="348" y="31.2">3.</text>
<rect class="bx" x="308" y="31.8" width="16" height="13" rx="2"/><text class="bn2" x="316" y="42.3">4.</text>
<rect class="bx" x="340" y="42.9" width="16" height="13" rx="2"/><text class="bn2" x="348" y="53.4">5.</text>
<rect class="bx" x="308" y="54" width="16" height="13" rx="2"/><text class="bn2" x="316" y="64.5">6.</text>
<rect class="DR" x="372.5" y="0" width="147.2" height="10"/><rect class="LB" x="372.5" y="11.1" width="148.8" height="10"/><rect class="LB" x="372.5" y="22.2" width="113.6" height="10"/><rect class="LB" x="372.5" y="33.3" width="81.6" height="10"/><rect class="LB" x="372.5" y="44.4" width="60.8" height="10"/><rect class="LB" x="372.5" y="55.5" width="44.8" height="10"/>
<text class="v2" x="521.7" y="10.5">92</text><text class="v2" x="523.3" y="21.6">93</text><text class="v2" x="488.1" y="32.7">71</text><text class="v2" x="456.1" y="43.8">51</text><text class="v2" x="435.3" y="54.9">38</text><text class="v2" x="419.3" y="66">28</text>
</g>
<g transform="translate(0,1264.9)">
<text class="gl" x="372.5" y="-2" textLength="64.5" lengthAdjust="spacingAndGlyphs">50–59 LAT</text>
<path class="ln" d="M356,5H372.5M324,16.1H372.5M356,27.2H372.5M324,38.3H372.5M356,49.4H372.5M324,60.5H372.5"/>
<rect class="bx" x="340" y="-1.5" width="16" height="13" rx="2"/><text class="bn2" x="348" y="9">1.</text>
<rect class="bx" x="308" y="9.6" width="16" height="13" rx="2"/><text class="bn2" x="316" y="20.1">2.</text>
<rect class="bx" x="340" y="20.7" width="16" height="13" rx="2"/><text class="bn2" x="348" y="31.2">3.</text>
<rect class="bx" x="308" y="31.8" width="16" height="13" rx="2"/><text class="bn2" x="316" y="42.3">4.</text>
<rect class="bx" x="340" y="42.9" width="16" height="13" rx="2"/><text class="bn2" x="348" y="53.4">5.</text>
<rect class="bx" x="308" y="54" width="16" height="13" rx="2"/><text class="bn2" x="316" y="64.5">6.</text>
<rect class="DR" x="372.5" y="0" width="147.2" height="10"/><rect class="LB" x="372.5" y="11.1" width="129.6" height="10"/><rect class="LB" x="372.5" y="22.2" width="100.8" height="10"/><rect class="LB" x="372.5" y="33.3" width="88" height="10"/><rect class="LB" x="372.5" y="44.4" width="46.4" height="10"/><rect class="LB" x="372.5" y="55.5" width="67.2" height="10"/>
<text class="v2" x="521.7" y="10.5">92</text><text class="v2" x="504.1" y="21.6">81</text><text class="v2" x="475.3" y="32.7">63</text><text class="v2" x="462.5" y="43.8">55</text><text class="v2" x="420.9" y="54.9">29</text><text class="v2" x="441.7" y="66">42</text>
</g>
<g transform="translate(0,1347.9)">
<text class="gl" x="372.5" y="-2" textLength="66" lengthAdjust="spacingAndGlyphs">60–69 LAT</text>
<path class="ln" d="M356,5H372.5M324,16.1H372.5M356,27.2H372.5M324,38.3H372.5M356,49.4H372.5M324,60.5H372.5"/>
<rect class="bx" x="340" y="-1.5" width="16" height="13" rx="2"/><text class="bn2" x="348" y="9">1.</text>
<rect class="bx" x="308" y="9.6" width="16" height="13" rx="2"/><text class="bn2" x="316" y="20.1">2.</text>
<rect class="bx" x="340" y="20.7" width="16" height="13" rx="2"/><text class="bn2" x="348" y="31.2">3.</text>
<rect class="bx" x="308" y="31.8" width="16" height="13" rx="2"/><text class="bn2" x="316" y="42.3">4.</text>
<rect class="bx" x="340" y="42.9" width="16" height="13" rx="2"/><text class="bn2" x="348" y="53.4">5.</text>
<rect class="bx" x="308" y="54" width="16" height="13" rx="2"/><text class="bn2" x="316" y="64.5">6.</text>
<rect class="DR" x="372.5" y="0" width="110.4" height="10"/><rect class="LB" x="372.5" y="11.1" width="110.4" height="10"/><rect class="LB" x="372.5" y="22.2" width="132.8" height="10"/><rect class="LB" x="372.5" y="33.3" width="84.8" height="10"/><rect class="LB" x="372.5" y="44.4" width="49.6" height="10"/><rect class="LB" x="372.5" y="55.5" width="49.6" height="10"/>
<text class="v2" x="484.9" y="10.5">69</text><text class="v2" x="484.9" y="21.6">69</text><text class="v2" x="507.3" y="32.7">83</text><text class="v2" x="459.3" y="43.8">53</text><text class="v2" x="424.1" y="54.9">31</text><text class="v2" x="424.1" y="66">31</text>
</g>
<g transform="translate(0,1431)">
<text class="gl" x="372.5" y="-2" textLength="22" lengthAdjust="spacingAndGlyphs">70+</text>
<path class="ln" d="M356,5H372.5M324,16.1H372.5M356,27.2H372.5M324,38.3H372.5M356,49.4H372.5M324,60.5H372.5"/>
<rect class="bx" x="340" y="-1.5" width="16" height="13" rx="2"/><text class="bn2" x="348" y="9">1.</text>
<rect class="bx" x="308" y="9.6" width="16" height="13" rx="2"/><text class="bn2" x="316" y="20.1">2.</text>
<rect class="bx" x="340" y="20.7" width="16" height="13" rx="2"/><text class="bn2" x="348" y="31.2">3.</text>
<rect class="bx" x="308" y="31.8" width="16" height="13" rx="2"/><text class="bn2" x="316" y="42.3">4.</text>
<rect class="bx" x="340" y="42.9" width="16" height="13" rx="2"/><text class="bn2" x="348" y="53.4">5.</text>
<rect class="bx" x="308" y="54" width="16" height="13" rx="2"/><text class="bn2" x="316" y="64.5">6.</text>
<rect class="DR" x="372.5" y="0" width="132.8" height="10"/><rect class="LB" x="372.5" y="11.1" width="139.2" height="10"/><rect class="LB" x="372.5" y="22.2" width="75.2" height="10"/><rect class="LB" x="372.5" y="33.3" width="76.8" height="10"/><rect class="LB" x="372.5" y="44.4" width="57.6" height="10"/><rect class="LB" x="372.5" y="55.5" width="38.4" height="10"/>
<text class="v2" x="507.3" y="10.5">83</text><text class="v2" x="513.7" y="21.6">87</text><text class="v2" x="449.7" y="32.7">47</text><text class="v2" x="451.3" y="43.8">48</text><text class="v2" x="432.1" y="54.9">36</text><text class="v2" x="412.9" y="66">24</text>
</g>

<!-- residence groups -->
<g transform="translate(0,1025.5)">
<text class="gl" x="663.5" y="-3" textLength="32.5" lengthAdjust="spacingAndGlyphs">WIEŚ</text>
<path class="ln" d="M645,6.25H662M613,20.55H662M645,34.85H662M613,49.15H662M645,63.45H662M613,77.75H662"/>
<rect class="bx" x="629" y="-0.75" width="16" height="14" rx="2"/><text class="bn2" x="637" y="10.25">1.</text>
<rect class="bx" x="597" y="13.55" width="16" height="14" rx="2"/><text class="bn2" x="605" y="24.55">2.</text>
<rect class="bx" x="629" y="27.85" width="16" height="14" rx="2"/><text class="bn2" x="637" y="38.85">3.</text>
<rect class="bx" x="597" y="42.15" width="16" height="14" rx="2"/><text class="bn2" x="605" y="53.15">4.</text>
<rect class="bx" x="629" y="56.45" width="16" height="14" rx="2"/><text class="bn2" x="637" y="67.45">5.</text>
<rect class="bx" x="597" y="70.75" width="16" height="14" rx="2"/><text class="bn2" x="605" y="81.75">6.</text>
<rect class="DR" x="662" y="0" width="120.4" height="12.5"/><rect class="LB" x="662" y="14.3" width="113.4" height="12.5"/><rect class="LB" x="662" y="28.6" width="88.2" height="12.5"/><rect class="LB" x="662" y="42.9" width="82.6" height="12.5"/><rect class="LB" x="662" y="57.2" width="53.2" height="12.5"/><rect class="LB" x="662" y="71.5" width="51.8" height="12.5"/>
<text class="v3" x="784.4" y="12.5">86</text><text class="v3" x="777.4" y="26.8">81</text><text class="v3" x="752.2" y="41.1">63</text><text class="v3" x="746.6" y="55.4">59</text><text class="v3" x="717.2" y="69.7">38</text><text class="v3" x="715.8" y="84">37</text>
</g>
<g transform="translate(0,1132.7)">
<text class="gl" x="663.5" y="-3" textLength="100.5" lengthAdjust="spacingAndGlyphs">MIASTO: MAŁE</text>
<path class="ln" d="M645,6.25H662M613,20.55H662M645,34.85H662M613,49.15H662M645,63.45H662M613,77.75H662"/>
<rect class="bx" x="629" y="-0.75" width="16" height="14" rx="2"/><text class="bn2" x="637" y="10.25">1.</text>
<rect class="bx" x="597" y="13.55" width="16" height="14" rx="2"/><text class="bn2" x="605" y="24.55">2.</text>
<rect class="bx" x="629" y="27.85" width="16" height="14" rx="2"/><text class="bn2" x="637" y="38.85">3.</text>
<rect class="bx" x="597" y="42.15" width="16" height="14" rx="2"/><text class="bn2" x="605" y="53.15">4.</text>
<rect class="bx" x="629" y="56.45" width="16" height="14" rx="2"/><text class="bn2" x="637" y="67.45">5.</text>
<rect class="bx" x="597" y="70.75" width="16" height="14" rx="2"/><text class="bn2" x="605" y="81.75">6.</text>
<rect class="DR" x="662" y="0" width="102.2" height="12.5"/><rect class="LB" x="662" y="14.3" width="103.6" height="12.5"/><rect class="LB" x="662" y="28.6" width="91" height="12.5"/><rect class="LB" x="662" y="42.9" width="54.6" height="12.5"/><rect class="LB" x="662" y="57.2" width="40.6" height="12.5"/><rect class="LB" x="662" y="71.5" width="29.4" height="12.5"/>
<text class="v3" x="766.2" y="12.5">73</text><text class="v3" x="767.6" y="26.8">74</text><text class="v3" x="755" y="41.1">65</text><text class="v3" x="718.6" y="55.4">39</text><text class="v3" x="704.6" y="69.7">29</text><text class="v3" x="693.4" y="84">21</text>
</g>
<g transform="translate(0,1239.6)">
<text class="gl" x="663.5" y="-3" textLength="58" lengthAdjust="spacingAndGlyphs">ŚREDNIE</text>
<path class="ln" d="M645,6.25H662M613,20.55H662M645,34.85H662M613,49.15H662M645,63.45H662M613,77.75H662"/>
<rect class="bx" x="629" y="-0.75" width="16" height="14" rx="2"/><text class="bn2" x="637" y="10.25">1.</text>
<rect class="bx" x="597" y="13.55" width="16" height="14" rx="2"/><text class="bn2" x="605" y="24.55">2.</text>
<rect class="bx" x="629" y="27.85" width="16" height="14" rx="2"/><text class="bn2" x="637" y="38.85">3.</text>
<rect class="bx" x="597" y="42.15" width="16" height="14" rx="2"/><text class="bn2" x="605" y="53.15">4.</text>
<rect class="bx" x="629" y="56.45" width="16" height="14" rx="2"/><text class="bn2" x="637" y="67.45">5.</text>
<rect class="bx" x="597" y="70.75" width="16" height="14" rx="2"/><text class="bn2" x="605" y="81.75">6.</text>
<rect class="DR" x="662" y="0" width="117.6" height="12.5"/><rect class="LB" x="662" y="14.3" width="127.4" height="12.5"/><rect class="LB" x="662" y="28.6" width="95.2" height="12.5"/><rect class="LB" x="662" y="42.9" width="51.8" height="12.5"/><rect class="LB" x="662" y="57.2" width="15.4" height="12.5"/><rect class="LB" x="662" y="71.5" width="39.2" height="12.5"/>
<text class="v3" x="781.6" y="12.5">84</text><text class="v3" x="791.4" y="26.8">91</text><text class="v3" x="759.2" y="41.1">68</text><text class="v3" x="715.8" y="55.4">37</text><text class="v3" x="679.4" y="69.7">11</text><text class="v3" x="703.2" y="84">28</text>
</g>
<g transform="translate(0,1347.2)">
<text class="gl" x="663.5" y="-3" textLength="36.5" lengthAdjust="spacingAndGlyphs">DUŻE</text>
<path class="ln" d="M645,6.25H662M613,20.55H662M645,34.85H662M613,49.15H662M645,63.45H662M613,77.75H662"/>
<rect class="bx" x="629" y="-0.75" width="16" height="14" rx="2"/><text class="bn2" x="637" y="10.25">1.</text>
<rect class="bx" x="597" y="13.55" width="16" height="14" rx="2"/><text class="bn2" x="605" y="24.55">2.</text>
<rect class="bx" x="629" y="27.85" width="16" height="14" rx="2"/><text class="bn2" x="637" y="38.85">3.</text>
<rect class="bx" x="597" y="42.15" width="16" height="14" rx="2"/><text class="bn2" x="605" y="53.15">4.</text>
<rect class="bx" x="629" y="56.45" width="16" height="14" rx="2"/><text class="bn2" x="637" y="67.45">5.</text>
<rect class="bx" x="597" y="70.75" width="16" height="14" rx="2"/><text class="bn2" x="605" y="81.75">6.</text>
<rect class="DR" x="662" y="0" width="124.6" height="12.5"/><rect class="LB" x="662" y="14.3" width="128.8" height="12.5"/><rect class="LB" x="662" y="28.6" width="112" height="12.5"/><rect class="LB" x="662" y="42.9" width="67.2" height="12.5"/><rect class="LB" x="662" y="57.2" width="22.4" height="12.5"/><rect class="LB" x="662" y="71.5" width="9.8" height="12.5"/>
<text class="v3" x="788.6" y="12.5">89</text><text class="v3" x="792.8" y="26.8">92</text><text class="v3" x="776" y="41.1">80</text><text class="v3" x="731.2" y="55.4">48</text><text class="v3" x="686.4" y="69.7">16</text><text class="v3" x="673.8" y="84">7</text>
</g>
<text class="ls" x="584" y="1462">*</text>
<text class="ls" x="593" y="1465" textLength="239" lengthAdjust="spacingAndGlyphs"><tspan font-weight="bold">małe miasto</tspan> – do 50 tys. mieszkańców,</text>
<text class="ls" x="593" y="1480.3" textLength="238" lengthAdjust="spacingAndGlyphs"><tspan font-weight="bold">średnie miasto</tspan> – od 50 tys. do 250 tys.,</text>
<text class="ls" x="593" y="1495.5" textLength="191" lengthAdjust="spacingAndGlyphs"><tspan font-weight="bold">duże miasto</tspan> – powyżej 250 tys.</text>
<line class="dot" x1="0" y1="1521.6" x2="857" y2="1521.6"/>
<!-- footer -->
<circle cx="806" cy="1533" r="6" fill="none" stroke="#c1140f" stroke-width="1.5"/>
<text class="n" font-weight="bold" font-size="9" fill="#c1140f" x="806" y="1536.2" text-anchor="middle">C</text>
<circle cx="819" cy="1533" r="6" fill="none" stroke="#c1140f" stroke-width="1.5"/>
<text class="n" font-weight="bold" font-size="9" fill="#c1140f" x="819" y="1536.2" text-anchor="middle">P</text>
<text class="n" font-size="9" x="834" y="1537" fill="#222">RM</text>
<text class="n" font-size="12" x="2" y="1543" fill="#222" textLength="579" lengthAdjust="spacingAndGlyphs">Źródło: sondaż United Surveys dla Dziennika Gazety Prawnej, Dziennik.pl, RMF FM i RMF24.pl wykonany 4–6.11.2022 r.</text>
<text class="n" font-size="12" x="2" y="1558" fill="#222" textLength="782" lengthAdjust="spacingAndGlyphs">na ogólnopolskiej próbie 1000 pełnoletnich mieszkańców Polski metodą telefonicznych wywiadów kwestionariuszowych wspomaganych komputerowo (CATI)</text>
</svg>
</body></html>
